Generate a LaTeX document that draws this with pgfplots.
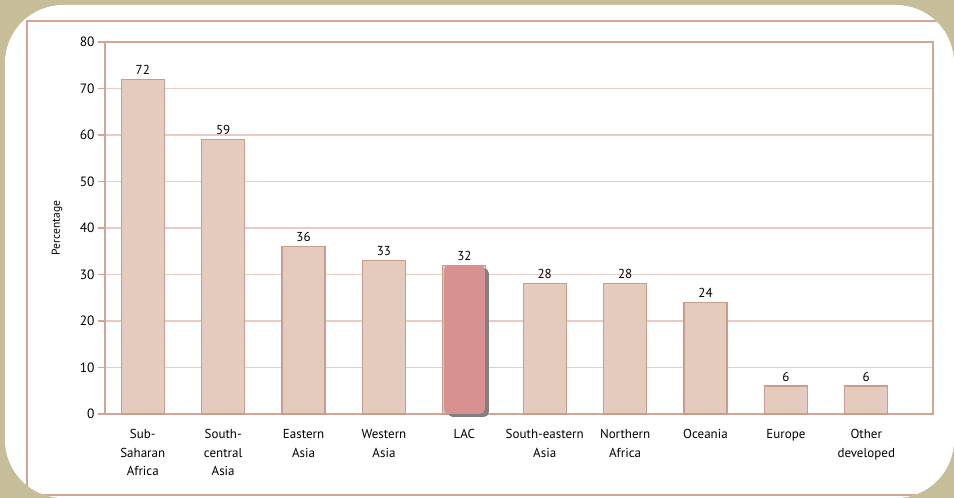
\documentclass[border=0pt]{standalone}
\usepackage{pgfplots}
\pgfplotsset{compat=1.18}
\usepackage{fontspec}
\setmainfont{PT Sans}
\usetikzlibrary{shadows}
\definecolor{olivebg}{HTML}{C5BE98}
\definecolor{barfill}{HTML}{E4CBBE}
\definecolor{baredge}{HTML}{C99C8C}
\definecolor{framec}{HTML}{D2A597}
\definecolor{gridc}{HTML}{E8CCC2}
\definecolor{lac}{HTML}{D89191}
\begin{document}
\begin{tikzpicture}[x=1pt,y=1pt]
\useasboundingbox (0,0) rectangle (954,498);
\fill[olivebg] (0,0) rectangle (954,498);
\begin{scope}
\clip[rounded corners=58pt] (5,0) rectangle (954,493);
\fill[white] (0,0) rectangle (954,498);
\draw[framec, line width=1.2pt] (27,3) rectangle (1000,477);
\end{scope}
\begin{axis}[
  at={(105pt,84pt)}, anchor=south west, scale only axis,
  width=828pt, height=372pt,
  xmin=-0.47, xmax=9.83, ymin=0, ymax=80,
  ytick={0,10,...,80}, xtick={0,...,9},
  xticklabels={{Sub-\\Saharan\\Africa},{South-\\central\\Asia},{Eastern\\Asia},{Western\\Asia},{LAC},{South-eastern\\Asia},{Northern\\Africa},{Oceania},{Europe},{Other\\developed}},
  xticklabel style={align=center, font=\fontsize{13}{18.5}\selectfont, yshift=-5pt},
  yticklabel style={font=\fontsize{13.5}{16}\selectfont},
  /pgf/number format/assume math mode=true,
  ymajorgrids, grid style={gridc, line width=1.2pt},
  axis line style={framec, line width=1.2pt},
  tick align=outside, ytick pos=left, major tick length=7pt,
  y tick style={framec, line width=1.2pt}, x tick style={draw=none},
  ylabel={Percentage},
  every axis y label/.style={at={(axis description cs:-0.058,0.5)}, rotate=90, anchor=center, font=\fontsize{11.5}{14}\selectfont},
  clip=false,
]
\addplot[ybar, bar width=43pt, bar shift=0pt, fill=barfill, draw=baredge, line width=1.2pt,
  nodes near coords, every node near coord/.append style={font=\fontsize{13}{16}\selectfont, black, yshift=1pt}]
  coordinates {(0,72) (1,59) (2,36) (3,33) (4,32) (5,28) (6,28) (7,24) (8,6) (9,6)};
\addplot[ybar, bar width=41pt, bar shift=0pt, fill=lac, draw=none, rounded corners=5pt,
  drop shadow={shadow xshift=4pt, shadow yshift=-3pt, fill=black!50, opacity=1}]
  coordinates {(4,32)};
\end{axis}
\end{tikzpicture}
\end{document}
